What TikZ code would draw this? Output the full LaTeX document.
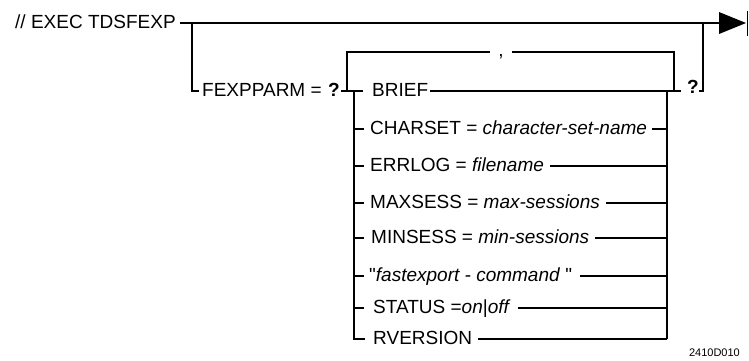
\documentclass[tikz,border=0pt]{standalone}
\usepackage{fontspec}
\setmainfont{Liberation Sans}
\newfontfamily\qfont{Liberation Sans}
\usetikzlibrary{calc}
\begin{document}
\begin{tikzpicture}[x=1pt,y=-1pt,
  rail/.style={line width=1.2pt, line cap=butt, line join=miter},
  lbl/.style={inner sep=0pt, anchor=base west, font=\fontsize{19}{22}\selectfont},
  rq/.style={lbl, font=\fontsize{19}{22}\selectfont\bfseries},
  tag/.style={inner sep=0pt, anchor=base east, font=\fontsize{11}{13}\selectfont}]

\useasboundingbox (0,0) rectangle (749,360);

% command and optional parameter keyword
\node[lbl] (cmd)  at (15,28)  {// EXEC TDSFEXP};
\node[lbl] (parm) at (202,96) {FEXPPARM =};
\node[rq, anchor=base east] (lq) at (340,96) {?};
\node[rq]  (rq)   at (687,93) {?};
\node[inner sep=0pt, anchor=base, font=\fontsize{19}{22}\selectfont] (sep) at (501,56) {,};

% parameter choices
\node[lbl] (brief)   at (372,96)  {BRIEF};
\node[lbl] (charset) at (370,134) {CHARSET = \textit{character-set-name}};
\node[lbl] (errlog)  at (370,171) {ERRLOG = \textit{filename}};
\node[lbl] (maxsess) at (370,208) {MAXSESS = \textit{max-sessions}};
\node[lbl] (minsess) at (371,243) {MINSESS = \textit{min-sessions}};
\node[lbl] (fexcmd)  at (369,281) {{\qfont"}\textit{fastexport - command} {\qfont"}};
\node[lbl] (status)  at (373,313) {STATUS =\textit{on}|\textit{off}};
\node[lbl] (rver)    at (373,344) {RVERSION};

\node[tag] (fig) at (740,356) {2410D010};

% rail junctions
\coordinate (mainL) at (180,23);
\coordinate (mainR) at (719,23);
\coordinate (byp) at (192,23);
\coordinate (loopL) at (347,91);
\coordinate (loopR) at (674,91);
\coordinate (stkL) at (354,91);
\coordinate (stkR) at (667,91);
\coordinate (outR) at (703,23);

% main line with end-of-statement arrow
\draw[rail] (mainL) -- (mainR);
\fill (719,12) -- (746,23) -- (719,34) -- cycle;
\draw[rail] (747.6,11) -- (747.6,36);

% optional branch down to FEXPPARM
\draw[rail] (byp) -- (byp |- 0,91) -- (199,91);
\draw[rail] ($(lq.base east)+(1,-5)$) -- (363,91);

% repeat loop with comma separator
\draw[rail] (loopL) -- (loopL |- 0,52) -- (490,52);
\draw[rail] (512,52) -- (loopR |- 0,52) -- (loopR);

% stack of choices
\draw[rail] (stkL) -- (stkL |- 0,339) -- (365,339);
\draw[rail] (stkR) -- (stkR |- 0,339);
\foreach \yy in {129,166,203,238,276,308} {
  \draw[rail] (stkL |- 0,\yy) -- (364,\yy);
}
\draw[rail] ($(brief.base east)+(2,-5)$) -- (681,91);
\draw[rail] ($(charset.base east)+(5,-5)$) -- (stkR |- 0,129);
\draw[rail] ($(errlog.base east)+(6,-5)$) -- (stkR |- 0,166);
\draw[rail] ($(maxsess.base east)+(6,-5)$) -- (stkR |- 0,203);
\draw[rail] ($(minsess.base east)+(6,-5)$) -- (stkR |- 0,238);
\draw[rail] ($(fexcmd.base east)+(8,-5)$) -- (stkR |- 0,276);
\draw[rail] ($(status.base east)+(7,-5)$) -- (stkR |- 0,308);
\draw[rail] ($(rver.base east)+(6,-5)$) -- (stkR |- 0,339);

% return to main line
\draw[rail] ($(rq.base east)+(0,-2)$) -- (outR |- 0,91) -- (outR);
\end{tikzpicture}
\end{document}
